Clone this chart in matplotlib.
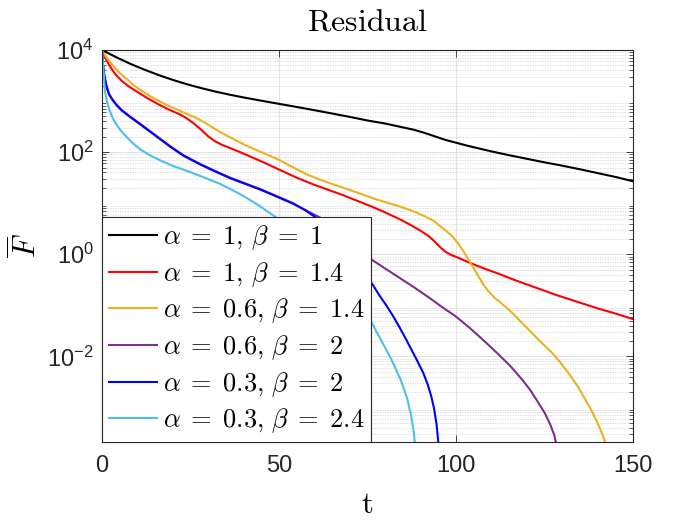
import numpy as np
import matplotlib
matplotlib.use('Agg')
import matplotlib.pyplot as plt
from matplotlib.ticker import LogLocator, NullFormatter, FixedLocator

plt.rcParams['font.family'] = ['Liberation Sans', 'DejaVu Sans']
plt.rcParams['mathtext.fontset'] = 'cm'

# values, y stored as log10(F)
t_black = [0, 4, 8, 12, 16, 20, 24, 28, 32, 36, 40, 45, 50, 55, 60, 65, 70,
           75, 80, 85, 88, 91, 94, 97, 100, 103, 106, 110, 115, 120, 125, 130,
           135, 140, 145, 150]
log_black = [4.00, 3.86, 3.73, 3.615, 3.51, 3.415, 3.33, 3.255, 3.187, 3.126,
             3.071, 3.008, 2.946, 2.885, 2.822, 2.757, 2.69, 2.62, 2.56, 2.485,
             2.44, 2.38, 2.31, 2.24, 2.185, 2.13, 2.08, 2.015, 1.94, 1.87, 1.80,
             1.735, 1.665, 1.59, 1.515, 1.43]

t_red = [0, 1, 2, 3, 4, 5.5, 7.5, 10, 13, 16.4, 19, 22, 24, 26, 28, 30, 32, 34,
         36.2, 39, 42, 46, 50, 55, 60, 64, 68, 72, 76, 80, 84, 87, 90, 92, 94,
         95.5, 97, 98.5, 100, 104, 108, 112, 116, 120, 124, 128, 132, 136, 140,
         145, 150]
log_red = [4.00, 3.84, 3.71, 3.60, 3.51, 3.40, 3.29, 3.18, 3.05, 2.92, 2.83,
           2.74, 2.66, 2.56, 2.44, 2.31, 2.21, 2.14, 2.08, 2.00, 1.91, 1.79,
           1.66, 1.50, 1.36, 1.26, 1.16, 1.05, 0.94, 0.82, 0.69, 0.58, 0.46,
           0.37, 0.25, 0.14, 0.05, -0.01, -0.05, -0.17, -0.28, -0.38, -0.49,
           -0.59, -0.69, -0.79, -0.88, -0.97, -1.06, -1.16, -1.27]

t_orange = [0, 1, 2, 3.5, 5, 7, 9, 11, 13.5, 16.4, 19, 22, 25, 27, 29, 31, 33,
            35, 38, 41, 45, 50, 54, 58, 62, 67, 72, 76, 80, 84, 88, 91, 93.6,
            95.5, 97.5, 99, 100.5, 102, 103.5, 105, 106.5, 108, 109.5, 111, 113,
            115.5, 118, 121, 124, 127, 129.5, 132, 134.5, 136.5, 138.5, 140.3,
            141.5, 142.3, 142.8, 143.2]
log_orange = [4.00, 3.88, 3.79, 3.66, 3.55, 3.43, 3.31, 3.21, 3.10, 2.99, 2.90,
              2.81, 2.72, 2.655, 2.58, 2.495, 2.41, 2.335, 2.225, 2.12, 2.00,
              1.85, 1.70, 1.56, 1.45, 1.33, 1.21, 1.11, 1.02, 0.94, 0.84, 0.75,
              0.66, 0.55, 0.44, 0.35, 0.22, 0.07, -0.10, -0.27, -0.45, -0.62,
              -0.75, -0.86, -0.97, -1.12, -1.30, -1.51, -1.72, -1.92, -2.12,
              -2.35, -2.60, -2.84, -3.09, -3.35, -3.55, -3.72, -4.00, -4.50]

t_purple = [0, 0.3, 0.7, 1.3, 2, 3, 4, 5.5, 7.9, 10.5, 13.6, 16.5, 19.2, 23,
            27.7, 32, 36.2, 40, 44.6, 48, 51, 54, 57, 61.6, 66, 70, 73, 76.5,
            80, 84, 88, 92, 96, 100, 104, 108, 112, 115.5, 118.5, 121, 123, 125,
            126.6, 127.7, 128.3, 128.8]
log_purple = [4.00, 3.71, 3.49, 3.29, 3.14, 3.03, 2.94, 2.83, 2.70, 2.57, 2.41,
              2.26, 2.12, 1.94, 1.77, 1.63, 1.50, 1.40, 1.28, 1.18, 1.09, 1.00,
              0.88, 0.72, 0.49, 0.26, 0.08, -0.12, -0.28, -0.46, -0.64, -0.83,
              -1.03, -1.22, -1.45, -1.70, -1.96, -2.20, -2.44, -2.66, -2.88,
              -3.10, -3.33, -3.53, -3.70, -4.20]

t_blue = [0, 0.3, 0.7, 1.3, 2, 3, 4, 5.5, 7.9, 10.5, 13.6, 16.5, 19.2, 23, 27.7,
          32, 36.2, 40, 44.6, 48, 51, 54, 57, 60, 63, 66, 69, 72, 74.5, 76.5,
          78.5, 80.5, 82.3, 84.2, 86, 87.5, 89, 90.8, 92, 93, 93.8, 94.5, 95,
          95.3]
log_blue = [4.00, 3.70, 3.48, 3.28, 3.13, 3.02, 2.93, 2.82, 2.69, 2.56, 2.40,
            2.25, 2.11, 1.93, 1.76, 1.62, 1.49, 1.39, 1.27, 1.17, 1.08, 0.99,
            0.88, 0.74, 0.56, 0.34, 0.10, -0.16, -0.40, -0.60, -0.82, -1.02,
            -1.22, -1.45, -1.68, -1.88, -2.08, -2.33, -2.55, -2.78, -3.02,
            -3.33, -3.68, -4.20]

t_cyan = [0, 0.2, 0.5, 0.85, 1.3, 2, 3, 4, 5.1, 6.5, 8.5, 10.7, 13.5, 16.4, 20,
          24.9, 29, 33.3, 36.2, 40, 44, 48.4, 52, 56, 60, 64, 68, 72, 76.5,
          78.5, 80.4, 82.3, 84.5, 86.2, 87.3, 88.0, 88.4, 88.7]
log_cyan = [4.00, 3.80, 3.54, 3.18, 3.03, 2.85, 2.67, 2.55, 2.44, 2.33, 2.19,
            2.06, 1.94, 1.84, 1.73, 1.61, 1.50, 1.38, 1.28, 1.14, 0.97, 0.76,
            0.58, 0.38, 0.16, -0.08, -0.38, -0.78, -1.38, -1.64, -1.88, -2.14,
            -2.48, -2.82, -3.15, -3.45, -3.70, -4.20]

labels = [r'$\alpha\;=\;1,\,\beta\;=\;1$', r'$\alpha\;=\;1,\,\beta\;=\;1.4$',
          r'$\alpha\;=\;0.6,\,\beta\;=\;1.4$', r'$\alpha\;=\;0.6,\,\beta\;=\;2$',
          r'$\alpha\;=\;0.3,\,\beta\;=\;2$', r'$\alpha\;=\;0.3,\,\beta\;=\;2.4$']
colors = ['black', '#ff0000', '#edb120', '#7e2f8e', '#0000ff', '#4dbeee']
series = [(t_black, log_black), (t_red, log_red), (t_orange, log_orange),
          (t_purple, log_purple), (t_blue, log_blue), (t_cyan, log_cyan)]

fig = plt.figure(figsize=(7, 5.25), dpi=100)
ax = fig.add_axes([0.1457, 0.158, 0.7586, 0.7467])

for (t, lg), c, lab in zip(series, colors, labels):
    ax.semilogy(t, np.power(10.0, lg), color=c, lw=1.5, label=lab)

ax.set_xlim(0, 150)
ax.set_ylim(2.1e-4, 1e4)
ax.xaxis.set_major_locator(FixedLocator([0, 50, 100, 150]))
ax.yaxis.set_major_locator(LogLocator(base=10, subs=(1.0,), numticks=20))
ax.yaxis.set_minor_locator(LogLocator(base=10, subs=np.arange(2, 10), numticks=20))
ax.yaxis.set_minor_formatter(NullFormatter())
ax.set_yticks([1e-2, 1e0, 1e2, 1e4])

ax.grid(True, which='major', color='#dcdcdc', lw=0.6, ls='-')
ax.grid(True, which='minor', axis='y', color='#d6d6d6', lw=0.6, ls=(0, (1.5, 1.5)))
ax.set_axisbelow(True)

ax.tick_params(which='both', direction='in', top=True, right=True,
               colors='#262626', labelsize=17)
ax.tick_params(axis='x', which='major', pad=9)
ax.tick_params(axis='y', which='major', pad=6)
ax.tick_params(which='major', length=5, width=0.6)
ax.tick_params(which='minor', length=3, width=0.5)
for sp in ax.spines.values():
    sp.set_color('#262626')
    sp.set_linewidth(0.8)

ax.set_title(r'$\mathrm{Residual}$', fontsize=23, pad=14)
ax.set_xlabel(r'$\mathrm{t}$', fontsize=22, labelpad=10)
ax.set_ylabel(r'$\overline{F}$', fontsize=22)
ax.yaxis.set_label_coords(-0.11, 0.5)

leg = ax.legend(loc='lower left', bbox_to_anchor=(0, 0), borderaxespad=0,
                fontsize=19, handlelength=1.82, handletextpad=0.25,
                borderpad=0.25, labelspacing=0.3, fancybox=False,
                framealpha=1, edgecolor='#262626')
leg.get_frame().set_linewidth(0.8)

fig.savefig('out.png', dpi=100)
